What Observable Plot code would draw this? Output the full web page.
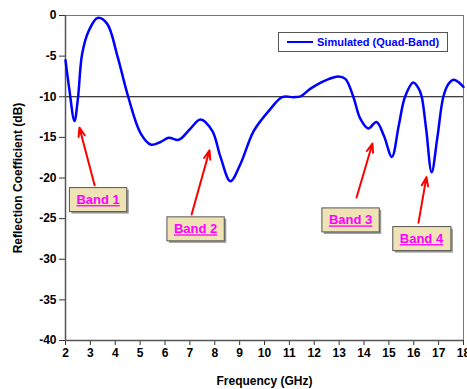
<!DOCTYPE html>
<html>
<head>
<meta charset="utf-8">
<script src="https://cdn.jsdelivr.net/npm/d3@7"></script>
<script src="https://cdn.jsdelivr.net/npm/@observablehq/plot@0.6"></script>
<style>
  html, body { margin: 0; padding: 0; background: #fff; }
  #chart { width: 467px; height: 389px; }
  svg { font-family: "Liberation Sans", Arial, sans-serif; }
</style>
</head>
<body>
<div id="chart"></div>
<script>
// Simulated reflection coefficient (dB) vs frequency (GHz)
const freq = [2.0, 2.15, 2.36, 2.5, 2.67, 2.94, 3.29, 3.67, 4.08, 4.52, 5.02, 5.44, 5.8, 6.15, 6.55, 7.0, 7.43, 7.9, 8.23, 8.63, 9.03, 9.57, 10.24, 10.71, 11.18, 11.45, 11.85, 12.3, 12.6, 12.96, 13.25, 13.57, 13.85, 14.17, 14.5, 14.8, 15.12, 15.4, 15.65, 15.98, 16.2, 16.32, 16.5, 16.72, 16.95, 17.19, 17.4, 17.6, 17.8, 18.0];
const s11  = [-5.5, -9.0, -13.0, -10.2, -4.7, -1.85, -0.3, -1.0, -4.9, -10.0, -14.5, -15.9, -15.6, -15.05, -15.3, -14.0, -12.8, -14.2, -17.4, -20.4, -18.3, -14.2, -11.5, -10.05, -10.05, -9.95, -9.0, -8.2, -7.8, -7.5, -7.8, -10.0, -12.7, -13.9, -13.1, -14.8, -17.4, -13.5, -10.0, -8.25, -9.0, -10.0, -14.0, -19.3, -15.0, -10.0, -8.4, -7.9, -8.2, -8.8];

const xTicks = [2,3,4,5,6,7,8,9,10,11,12,13,14,15,16,17,18];
const yTicks = [0,-5,-10,-15,-20,-25,-30,-35,-40];
const threshold = -10;

// Band annotations: label, label centre, arrow tail, arrow head
const bandLabels = ["Band 1", "Band 2", "Band 3", "Band 4"];
const bandLabelX = [3.31, 7.23, 13.46, 16.31];
const bandLabelY = [-22.7, -26.3, -25.2, -27.5];
const arrowX1 = [3.17, 7.07, 13.70, 16.19];
const arrowY1 = [-20.9, -24.5, -22.4, -25.5];
const arrowX2 = [2.56, 7.79, 14.34, 16.51];
const arrowY2 = [-13.8, -16.6, -15.75, -19.9];

const curve = freq.map((f, i) => ({f, v: s11[i]}));
const bands = bandLabels.map((b, i) => ({
  b, x: bandLabelX[i], y: bandLabelY[i],
  x1: arrowX1[i], y1: arrowY1[i], x2: arrowX2[i], y2: arrowY2[i]
}));

const plot = Plot.plot({
  width: 467,
  height: 389,
  marginLeft: 65,
  marginRight: 4,
  marginTop: 15,
  marginBottom: 49,
  style: {fontFamily: "'Liberation Sans', Arial, sans-serif", fontSize: "12px", fontWeight: "bold", color: "#000", background: "#fff"},
  x: {domain: [2, 18]},
  y: {domain: [-40, 0]},
  marks: [
    Plot.frame({stroke: "#777", strokeWidth: 1}),
    Plot.ruleY([threshold], {stroke: "#000", strokeWidth: 1}),
    Plot.axisX({ticks: xTicks, tickFormat: d => String(d), tickSize: 5, tickPadding: 3, stroke: "#333",
      label: "Frequency (GHz)", labelAnchor: "center", labelArrow: "none", labelOffset: 44, fontWeight: "bold", fontSize: 12}),
    Plot.axisY({ticks: yTicks, tickFormat: d => String(d), tickSize: 6, tickPadding: 3, stroke: "#333",
      label: "Reflection Coefficient (dB)", labelAnchor: "center", labelArrow: "none", labelOffset: 52, fontWeight: "bold", fontSize: 12}),
    Plot.ruleX([2], {stroke: "#555", strokeWidth: 1.5}),
    Plot.ruleY([-40], {stroke: "#555", strokeWidth: 1.5}),
    Plot.line(curve, {x: "f", y: "v", stroke: "#0000ff", strokeWidth: 2.5, curve: "catmull-rom"}),
    Plot.arrow(bands, {x1: "x1", y1: "y1", x2: "x2", y2: "y2", stroke: "#ff0000", strokeWidth: 2, headLength: 7, headAngle: 40}),
    Plot.text(bands, {x: "x", y: "y", text: "b", fill: "#ff00ff", fontSize: 13, fontWeight: "bold", className: "bandlabel"})
  ]
});

document.getElementById("chart").appendChild(plot);

// tan boxes with shadow behind band labels
const svg = d3.select(plot);
const NS = "http://www.w3.org/2000/svg";
svg.selectAll(".bandlabel text").each(function() {
  const t = this;
  t.style.textDecoration = "underline";
  const bb = t.getBBox();
  const padX = 7, padY = 4.5;
  const g = t.parentNode;
  const tr = t.getAttribute("transform");
  const mk = (dx, fill, stroke) => {
    const r = document.createElementNS(NS, "rect");
    r.setAttribute("x", bb.x - padX + dx);
    r.setAttribute("y", bb.y - padY + dx);
    r.setAttribute("width", bb.width + 2 * padX);
    r.setAttribute("height", bb.height + 2 * padY);
    r.setAttribute("fill", fill);
    if (stroke) { r.setAttribute("stroke", stroke); r.setAttribute("stroke-width", "1"); }
    if (tr) r.setAttribute("transform", tr);
    g.insertBefore(r, t);
  };
  mk(2, "#999", null);
  mk(0, "#efe2b4", "#555");
});

// legend box
const lg = svg.append("g");
lg.append("rect").attr("x", 278.5).attr("y", 32.5).attr("width", 169).attr("height", 19)
  .attr("fill", "#fff").attr("stroke", "#555");
lg.append("line").attr("x1", 287).attr("x2", 313).attr("y1", 42).attr("y2", 42)
  .attr("stroke", "#0000ff").attr("stroke-width", 2);
lg.append("text").attr("x", 317).attr("y", 46).attr("fill", "#0000ff").attr("text-anchor", "start")
  .attr("font-size", 11).attr("font-weight", "bold").text("Simulated (Quad-Band)");
</script>
</body>
</html>
